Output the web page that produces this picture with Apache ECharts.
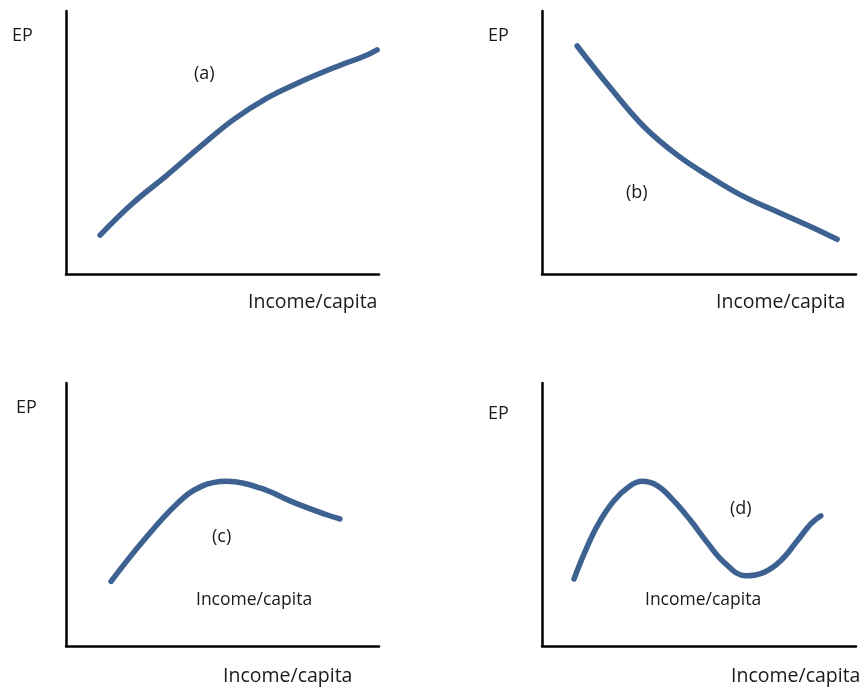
<!DOCTYPE html>
<html>
<head>
<meta charset="utf-8">
<script src="https://cdn.jsdelivr.net/npm/echarts@6/dist/echarts.min.js"></script>
<style>
  html, body { margin: 0; padding: 0; background: #fff; }
  #main { width: 868px; height: 688px; }
</style>
</head>
<body>
<div id="main"></div>
<script>
// curve points (axis units 0..10)
var curveA = [[1.09, 1.48], [2.14, 2.70], [3.23, 3.76], [4.28, 4.83], [5.34, 5.86], [6.42, 6.69], [7.48, 7.30], [8.53, 7.83], [9.62, 8.33], [9.94, 8.52]];
var curveB = [[1.12, 8.67], [2.19, 7.06], [3.25, 5.60], [4.31, 4.52], [5.37, 3.68], [6.43, 2.94], [7.49, 2.37], [8.56, 1.80], [9.40, 1.32]];
var curveC = [[1.44, 2.46], [2.47, 4.00], [3.54, 5.40], [4.31, 6.06], [5.13, 6.26], [6.20, 6.01], [7.27, 5.46], [8.33, 4.99], [8.75, 4.83]];
var curveD = [[1.02, 2.55], [1.34, 3.50], [1.76, 4.57], [2.29, 5.52], [2.82, 6.10], [3.19, 6.26], [3.67, 6.10], [4.20, 5.52], [4.74, 4.76], [5.26, 3.94], [5.80, 3.18], [6.49, 2.67], [7.07, 2.80], [7.60, 3.24], [8.13, 4.00], [8.56, 4.64], [8.88, 4.95]];
var panelLabels = ['(a)', '(b)', '(c)', '(d)'];
var yName = 'EP';
var xName = 'Income/capita';

var myChart = echarts.init(document.getElementById('main'), null, { renderer: 'canvas' });

var lineColor = '#3d6191';
var font = '"Open Sans", "Liberation Sans", Arial, sans-serif';

var grids = [
    { left: 66, top: 11, width: 313, height: 263 },
    { left: 542, top: 11, width: 314, height: 263 },
    { left: 66, top: 383, width: 313, height: 263 },
    { left: 542, top: 383, width: 314, height: 263 }
];

var xAxes = [], yAxes = [], series = [];
var curves = [curveA, curveB, curveC, curveD];
for (var i = 0; i < 4; i++) {
    xAxes.push({
        type: 'value', gridIndex: i, min: 0, max: 10,
        axisLine: { lineStyle: { color: '#000', width: 2.5 } },
        axisTick: { show: false }, axisLabel: { show: false }, splitLine: { show: false }
    });
    yAxes.push({
        type: 'value', gridIndex: i, min: 0, max: 10,
        axisLine: { show: true, lineStyle: { color: '#000', width: 2.5 } },
        axisTick: { show: false }, axisLabel: { show: false }, splitLine: { show: false }
    });
    series.push({
        type: 'line', xAxisIndex: i, yAxisIndex: i,
        data: curves[i], smooth: 0.4, symbol: 'none',
        lineStyle: { color: lineColor, width: 5.5, cap: 'round' }
    });
}

// texts: x = left edge, y = middle
function txt(x, y, s, size) {
    return {
        type: 'text', x: x, y: y,
        style: { text: s, fill: '#1a1a1a', font: size + 'px ' + font, verticalAlign: 'middle' }
    };
}

var option = {
    animation: false,
    backgroundColor: '#fff',
    grid: grids,
    xAxis: xAxes,
    yAxis: yAxes,
    series: series,
    graphic: [
        txt(12, 36, yName, 18),
        txt(488, 36, yName, 18),
        txt(16, 408, yName, 18),
        txt(488, 414, yName, 18),
        txt(248, 302, xName, 19.5),
        txt(716, 302, xName, 19.5),
        txt(223, 676, xName, 19.5),
        txt(731, 676, xName, 19.5),
        txt(196, 600, xName, 17.5),
        txt(645, 600, xName, 17.5),
        txt(194, 74, panelLabels[0], 18),
        txt(626, 193, panelLabels[1], 18),
        txt(212, 537, panelLabels[2], 18),
        txt(730, 509, panelLabels[3], 18)
    ]
};
myChart.setOption(option);
</script>
</body>
</html>
